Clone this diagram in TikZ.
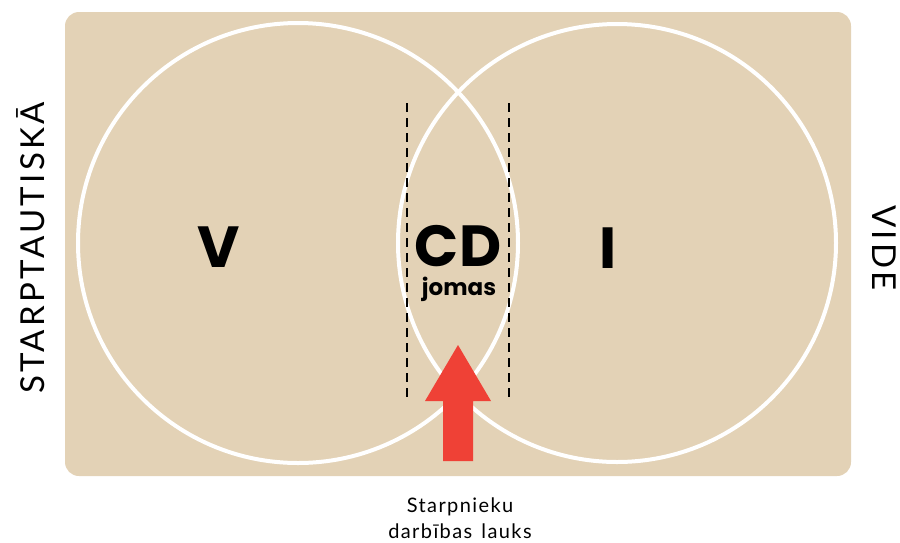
\documentclass[tikz,border=0pt]{standalone}
\usepackage{fontspec}
\setmainfont{Lato}
\newfontfamily\heavy{Poppins}
\newfontfamily\sidefont{Lato}[LetterSpace=10]
\newfontfamily\capfont{Lato}[LetterSpace=7, WordSpace=1.4]
\definecolor{bgsand}{HTML}{E3D2B6}
\definecolor{arrred}{HTML}{EF4136}
\tikzset{
  ring/.style={draw=white, line width=4pt},
  guide/.style={draw=black, line width=1.3pt, dash pattern=on 9pt off 6pt},
  bigletter/.style={font=\heavy\bfseries\fontsize{58}{58}\selectfont, inner sep=0pt, text depth=0pt},
  sidelabel/.style={font=\sidefont\fontsize{33}{33}\selectfont, inner sep=0pt},
}
\begin{document}
\begin{tikzpicture}[x=1pt,y=-1pt]
\useasboundingbox (0,0) rectangle (900,542);
\fill[bgsand, rounded corners=14pt] (65,12) rectangle (851,476);
\draw[ring] (298,243) circle[radius=220pt];
\draw[ring] (617,243) circle[radius=219pt];
\coordinate (g1t) at (407,103); \coordinate (g1b) at (407,400);
\coordinate (g2t) at (509,103); \coordinate (g2b) at (509,400);
\draw[guide] (g1t) -- (g1b);
\draw[guide] (g2t) -- (g2b);
\node[bigletter, anchor=base] (v) at (219,267) {V};
\node[bigletter, anchor=base] (cd) at (458,266) {CD};
\node[font=\heavy\bfseries\fontsize{23}{23}\selectfont, inner sep=0pt, text height=12pt, anchor=base] (jomas) at (459,295) {jomas};
\node[bigletter, anchor=base] (i) at (608,268) {I};
\fill[arrred] (443,461) -- (473,461) -- (473,401) -- (491,401) -- (458,345) -- (425,401) -- (443,401) -- cycle;
\node[sidelabel, rotate=90] (left) at (31,248) {STARPTAUTISKĀ};
\node[sidelabel, rotate=-90] (right) at (884,248) {VIDE};
\node[font=\capfont\fontsize{20}{26}\selectfont, align=center, inner sep=0pt] (field) at (460,518) {Starpnieku\\darbības lauks};
\end{tikzpicture}
\end{document}
